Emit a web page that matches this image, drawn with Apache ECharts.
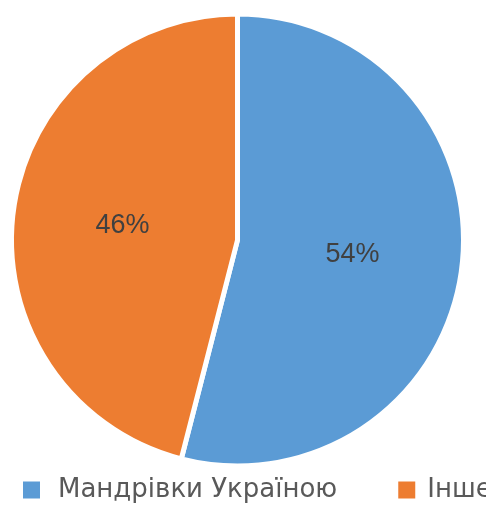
<!DOCTYPE html>
<html lang="uk">
<head>
    <meta charset="UTF-8">
    <title>Мандрівки</title>
    <script type="text/javascript" src="https://cdn.jsdelivr.net/npm/echarts@6/dist/echarts.min.js"></script>
    <style>
        html, body { margin: 0; padding: 0; background: #fff; }
    </style>
</head>
<body>
    <div id="main" style="width: 486px;height:507px;"></div>
    <script type="text/javascript">
        // категорії та частки (%)
        var categories = ['Мандрівки Україною', 'Інше'];
        var shares = [54, 46];
        var colors = ['#5B9BD5', '#ED7D31'];

        var myChart = echarts.init(document.getElementById('main'));

        var pieData = [];
        for (var i = 0; i < categories.length; i++) {
            pieData.push({ name: categories[i], value: shares[i] });
        }

        // відступ тексту від квадратика у легенді
        var legendPads = [13, 7];
        var legendData = categories.map(function (c, i) {
            return { name: c, textStyle: { padding: [0, 0, 0, legendPads[i]] } };
        });

        var option = {
            animation: false,
            color: colors,
            textStyle: { fontFamily: 'Liberation Sans' },
            legend: {
                data: legendData,
                left: 23,
                top: 477,
                padding: 0,
                width: 1000,
                itemWidth: 17,
                itemHeight: 17,
                itemGap: 61,
                icon: 'rect',
                itemStyle: { borderWidth: 0 },
                textStyle: {
                    fontFamily: 'DejaVu Sans',
                    fontSize: 26,
                    color: '#595959'
                }
            },
            series: [{
                type: 'pie',
                center: [237.5, 240],
                radius: 226,
                startAngle: 90,
                clockwise: true,
                data: pieData,
                itemStyle: { borderColor: '#fff', borderWidth: 5 },
                label: {
                    position: 'inside',
                    formatter: '{c}%',
                    fontSize: 27,
                    color: '#404040'
                },
                labelLine: { show: false },
                emphasis: { disabled: true }
            }]
        };

        myChart.setOption(option);
    </script>
</body>
</html>
